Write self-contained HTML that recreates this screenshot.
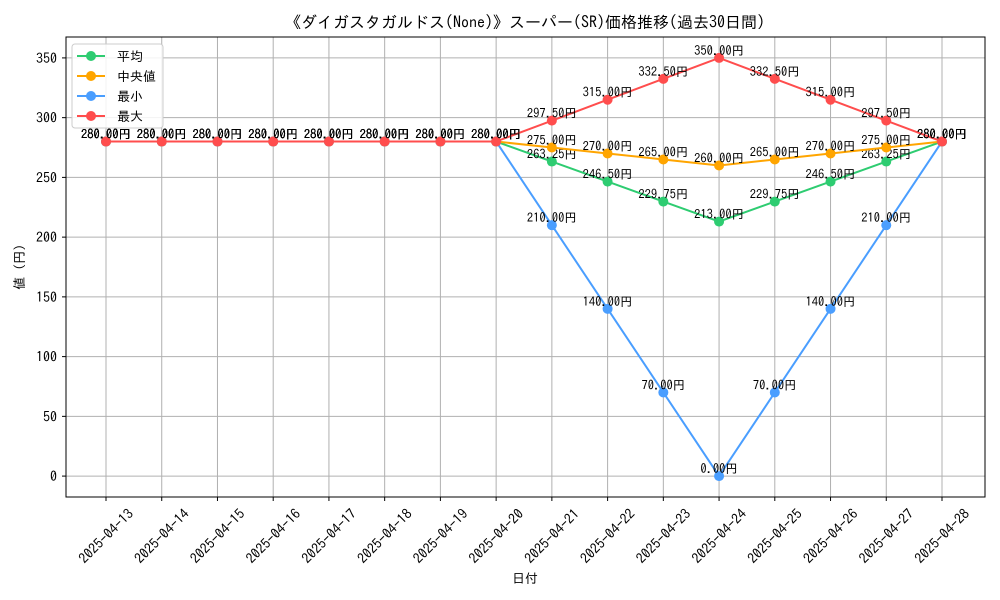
<!DOCTYPE html>
<html><head><meta charset="utf-8"><style>
body{margin:0;background:#fff;}
svg{display:block;font-family:"IPAGothic","Liberation Sans","Noto Sans CJK JP",sans-serif;}
</style></head><body>
<svg id="chart" width="1000" height="600" viewBox="0 0 1000 600">
<rect x="0" y="0" width="1000" height="600" fill="#fff"/>
<text x="525" y="28" text-anchor="middle" font-size="16">《ダイガスタガルドス(None)》スーパー(SR)価格推移(過去30日間)</text>
<g id="grid"></g>
<g id="axes"></g>
<g id="series"></g>
<rect x="66" y="37" width="919" height="460" fill="none" stroke="#000" stroke-width="1"/>
<text x="525" y="583" text-anchor="middle" font-size="13">日付</text>
<text x="24" y="267" text-anchor="middle" font-size="13" transform="rotate(-90 24 267)">値 (円)</text>
<g id="legend">
<rect x="72" y="44" width="91" height="84" fill="#fff" fill-opacity="0.85" stroke="#ccc" rx="3"/>
</g>
</svg>
<script>
const dates=["2025-04-13","2025-04-14","2025-04-15","2025-04-16","2025-04-17","2025-04-18","2025-04-19","2025-04-20","2025-04-21","2025-04-22","2025-04-23","2025-04-24","2025-04-25","2025-04-26","2025-04-27","2025-04-28"];
const avgVals=[280,280,280,280,280,280,280,280,263.25,246.5,229.75,213,229.75,246.5,263.25,280];
const medianVals=[280,280,280,280,280,280,280,280,275,270,265,260,265,270,275,280];
const minVals=[280,280,280,280,280,280,280,280,210,140,70,0,70,140,210,280];
const maxVals=[280,280,280,280,280,280,280,280,297.5,315,332.5,350,332.5,315,297.5,280];
const yTicks=[0,50,100,150,200,250,300,350];
const seriesNames=["平均","中央値","最小","最大"];
const NS="http://www.w3.org/2000/svg";
const X0=66,X1=985,Y0=37,Y1=497;
const yMin=-17.5,yMax=367.5;
function xs(i){return 106+i*(942-106)/(dates.length-1);}
function ys(v){return Y1-(v-yMin)/(yMax-yMin)*(Y1-Y0);}
function mk(tag,attrs,parent){const e=document.createElementNS(NS,tag);for(const k in attrs)e.setAttribute(k,attrs[k]);parent.appendChild(e);return e;}
const grid=document.getElementById('grid'),axes=document.getElementById('axes'),ser=document.getElementById('series');
dates.forEach((d,i)=>{
  const x=xs(i);
  const l=mk('line',{x1:x,x2:x,y1:Y0,y2:Y1,stroke:'#b0b0b0','stroke-width':1},grid);
  
  
  mk('line',{x1:x,x2:x,y1:Y1,y2:Y1+4,stroke:'#000'},axes);
  const cy=Y1+39;
  const t=mk('text',{x:x,y:cy+5,'text-anchor':'middle','font-size':14,transform:`rotate(-45 ${x} ${cy})`},axes);
  t.textContent=d;
  
  
});
yTicks.forEach(v=>{
  const y=ys(v);
  const l=mk('line',{x1:X0,x2:X1,y1:y,y2:y,stroke:'#b0b0b0','stroke-width':1},grid);
  
  
  mk('line',{x1:X0-4,x2:X0,y1:y,y2:y,stroke:'#000'},axes);
  const t=mk('text',{x:X0-9,y:y+5,'text-anchor':'end','font-size':14},axes);
  t.textContent=v;
  
  
});
const allSeries=[[avgVals,'#2ecc71','avg'],[medianVals,'#ffa500','median'],[minVals,'#4a9eff','min'],[maxVals,'#ff4d4d','max']];
allSeries.forEach(([vals,c,n])=>{
  const g=mk('g',{},ser);
  
  
  const p=mk('polyline',{points:vals.map((v,i)=>xs(i)+','+ys(v)).join(' '),fill:'none',stroke:c,'stroke-width':2},g);
  
  
  vals.forEach((v,i)=>{
    const pt=mk('circle',{cx:xs(i),cy:ys(v),r:5,fill:c},g);
    
    
  });
  vals.forEach((v,i)=>{
    const t=mk('text',{x:xs(i),y:ys(v)-3,'text-anchor':'middle','font-size':12.5},g);
    t.textContent=v.toFixed(2)+'円';
    
    
  });
});
const lg=document.getElementById('legend');
allSeries.forEach(([vals,c,n],k)=>{
  const y=56+k*20;
  const g=mk('g',{},lg);
  
  
  mk('line',{x1:77,x2:105,y1:y,y2:y,stroke:c,'stroke-width':2},g);
  mk('circle',{cx:91,cy:y,r:5,fill:c},g);
  const t=mk('text',{x:117,y:y+5,'font-size':13},g);
  t.textContent=seriesNames[k];
});
</script>
</body></html>
